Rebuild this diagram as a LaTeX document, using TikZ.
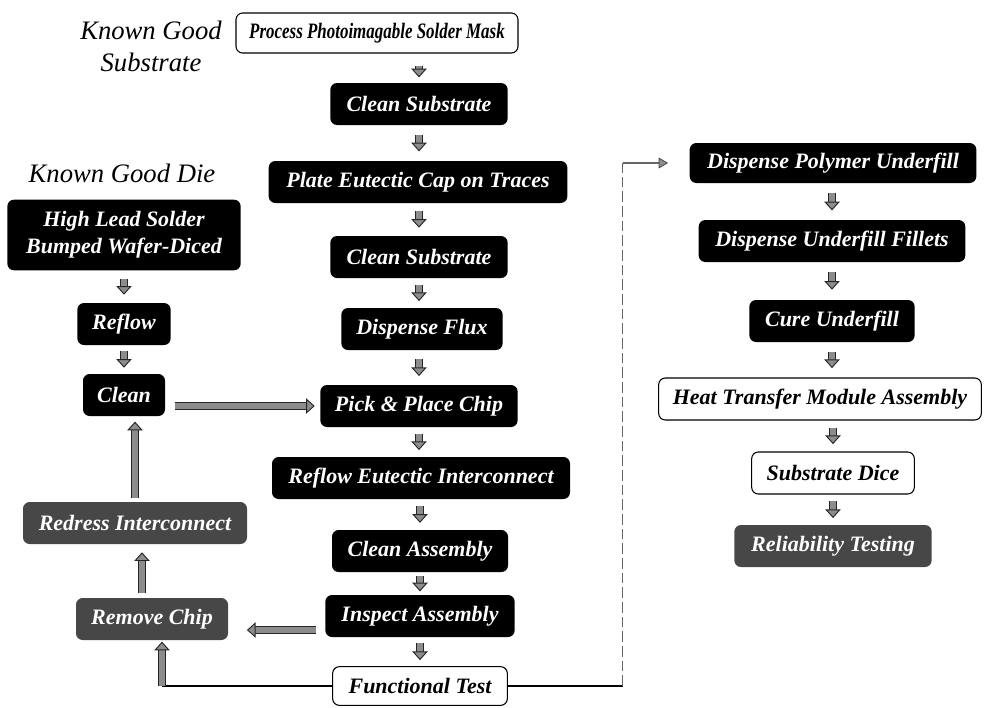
\documentclass[tikz,border=0pt]{standalone}
\usepackage{graphicx}
\usepackage{fontspec}
\setmainfont{Liberation Serif}
\usetikzlibrary{arrows.meta}
\usetikzlibrary{calc}

\begin{document}
\begin{tikzpicture}[x=0.75pt,y=0.75pt,yscale=-1,xscale=1,
  stepbox/.style={rounded corners=5pt, inner sep=2pt, minimum height=31.5pt, align=center, font=\fontsize{16.5}{20}\selectfont\bfseries\itshape},
  blackbox/.style={stepbox, fill=black, text=white},
  greybox/.style={stepbox, fill=black!72, text=white},
  whitebox/.style={stepbox, draw=black, line width=0.8pt, fill=white, text=black},
  headtext/.style={font=\fontsize{20}{24}\selectfont\itshape, align=center, inner sep=0.75pt},
  blk/.style 2 args={line width=4.2pt, draw=black!45, shorten <=#1, shorten >=#2,
    -{Triangle[width=11.5pt,length=6.5pt,fill=black!45,color=black!85,line width=0.7pt]},
    preaction={draw=black!85, line width=6pt, -, shorten <=#1, shorten >=#2+5pt}},
  feed/.style={line width=1.2pt, draw=black},
  thinarr/.style={line width=0.8pt, draw=black!60, shorten >=16pt,
    -{Triangle[width=8pt,length=7pt,fill=black!45,color=black!75,line width=0.5pt]}}]
\useasboundingbox (0,0) rectangle (984,707);

% Text Node
\node (kgs) at (151,46) [headtext] {Known Good\\Substrate};
% Text Node
\node (kgd) at (122,173) [headtext] {Known Good Die};

%Shape: Rounded Rectangle [id:substrate column]
\node (pm) at (377,33) [whitebox, minimum width=211.5pt, minimum height=30pt] {\scalebox{0.77}[1]{Process Photoimagable Solder Mask}};
\node (cs1) at (419,104) [blackbox, minimum width=133pt] {Clean Substrate};
\node (pe) at (418,182) [blackbox, minimum width=224pt] {Plate Eutectic Cap on Traces};
\node (cs2) at (419,257) [blackbox, minimum width=133pt] {Clean Substrate};
\node (df) at (422,329) [blackbox, minimum width=121pt] {Dispense Flux};
\node (pp) at (419,406) [blackbox, minimum width=148pt] {Pick \& Place Chip};
\node (re) at (421,478) [blackbox, minimum width=223.5pt] {Reflow Eutectic Interconnect};
\node (ca) at (420,551) [blackbox, minimum width=132pt] {Clean Assembly};
\node (ia) at (420,616) [blackbox, minimum width=142pt] {Inspect Assembly};
\node (ft) at (420,686) [whitebox, minimum width=131pt, minimum height=29pt] {Functional Test};

%Shape: Rounded Rectangle [id:die column]
\node (hl) at (124,235) [blackbox, minimum width=175pt, minimum height=53pt] {High Lead Solder\\Bumped Wafer-Diced};
\node (rf) at (124,324) [blackbox, minimum width=70pt] {Reflow};
\node (cl) at (124,395) [blackbox, minimum width=61.5pt] {Clean};
\node (ri) at (135,523) [greybox, minimum width=168pt] {Redress Interconnect};
\node (rc) at (152,619) [greybox, minimum width=114pt] {Remove Chip};

%Shape: Rounded Rectangle [id:module column]
\node (dp) at (833,163) [blackbox, minimum width=215pt, minimum height=30pt] {Dispense Polymer Underfill};
\node (du) at (832,241) [blackbox, minimum width=200pt] {Dispense Underfill Fillets};
\node (cu) at (832,321) [blackbox, minimum width=124pt] {Cure Underfill};
\node (ht) at (820,399) [whitebox, minimum width=242pt] {Heat Transfer Module Assembly};
\node (sd) at (833,473) [whitebox, minimum width=122pt] {Substrate Dice};
\node (rt) at (833,546) [greybox, minimum width=148pt] {Reliability Testing};

%Straight Lines [id:substrate steps]
\draw [blk={9pt}{4pt}] (pm.south -| cs1.north) -- (cs1.north);
\draw [blk={7pt}{7pt}] (cs1.south) -- (cs1.south |- pe.north);
\draw [blk={6pt}{6pt}] (cs2.north |- pe.south) -- (cs2.north);
\draw [blk={5pt}{5pt}] (cs2.south) -- (cs2.south |- df.north);
\draw [blk={6.5pt}{6.5pt}] (df.south -| pp.north) -- (pp.north);
\draw [blk={5pt}{5pt}] (pp.south) -- (pp.south |- re.north);
\draw [blk={5.2pt}{5.2pt}] (ca.north |- re.south) -- (ca.north);
\draw [blk={2.5pt}{2.5pt}] (ca.south) -- (ia.north);
\draw [blk={4.5pt}{4.5pt}] (ia.south) -- (ft.north);

%Straight Lines [id:die steps]
\draw [blk={6pt}{6pt}] (hl.south) -- (rf.north);
\draw [blk={4.5pt}{4.5pt}] (rf.south) -- (cl.north);
\draw [blk={7pt}{4pt}] (cl.east |- pp.west) -- (pp.west);
\draw [blk={3pt}{4pt}] (ri.north) -- (ri.north |- cl.south);
\coordinate (rcup) at ($(rc.north)+(-10,0)$);
\draw [blk={3.5pt}{6pt}] (rcup) -- (rcup |- ri.south);
\coordinate (iaout) at ($(ia.west)+(0,14)$);
\draw [blk={7pt}{14pt}] (iaout) -- (iaout -| rc.east);
\coordinate (rcin) at ($(rc.south)+(10,0)$);
\draw [feed] (ft.west) -- (ft.west -| rcin);
\draw [blk={0pt}{1pt}] (ft.west -| rcin) -- (rcin);

%Straight Lines [id:module steps]
\draw [feed] (ft.east) -- ++(115,0) coordinate (ftr);
\draw [black!60, line width=0.7pt, dash pattern=on 8pt off 3pt] (ftr) -- (ftr |- dp.west);
\draw [thinarr] (ftr |- dp.west) -- (dp.west);
\draw [blk={7pt}{7pt}] (dp.south -| du.north) -- (du.north);
\draw [blk={7.5pt}{7.5pt}] (du.south) -- (du.south |- cu.north);
\draw [blk={7pt}{7pt}] (cu.south) -- (cu.south |- ht.north);
\draw [blk={5.5pt}{5.5pt}] (sd.north |- ht.south) -- (sd.north);
\draw [blk={5pt}{5pt}] (sd.south) -- (rt.north);

\end{tikzpicture}
\end{document}
